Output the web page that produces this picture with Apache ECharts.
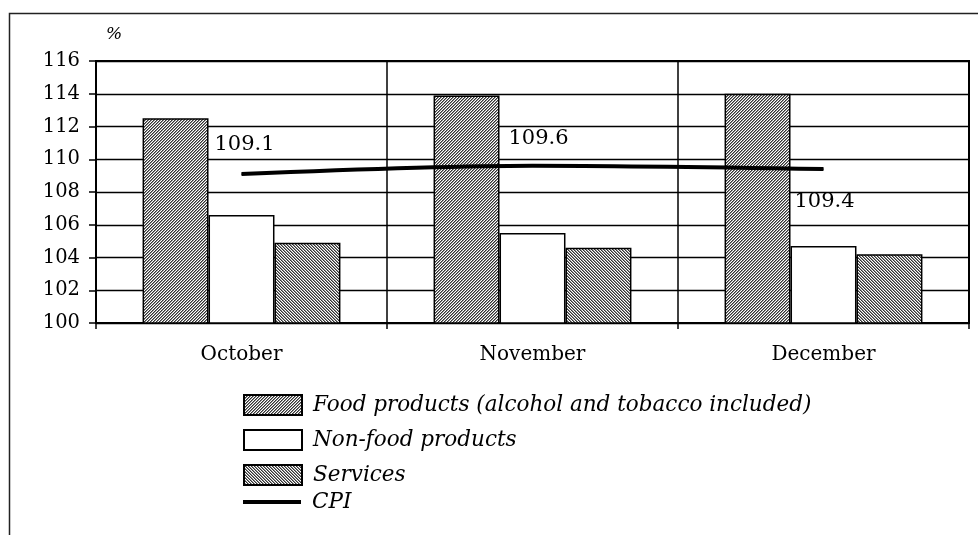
<!DOCTYPE html>
<html>
<head>
<meta charset="utf-8">
<script src="https://cdn.jsdelivr.net/npm/echarts@6/dist/echarts.min.js"></script>
<style>
  html, body { margin: 0; padding: 0; background: #fff; }
  #chart { width: 978px; height: 535px; }
</style>
</head>
<body>
<div id="chart"></div>
<script>
// Monthly price indices, previous year's month = 100
const months = ['October', 'November', 'December'];
const foodProducts = [112.5, 113.9, 114.0];
const nonFoodProducts = [106.6, 105.5, 104.7];
const services = [104.9, 104.6, 104.2];
const cpi = [109.1, 109.6, 109.4];
const seriesNames = ['Food products (alcohol and tobacco included)', 'Non-food products', 'Services', 'CPI'];

const SERIF = '"DejaVu Serif", "Liberation Serif", serif';

// Fine diagonal hatch used as bar fill
function hatch(forward) {
  const n = 3;
  const c = document.createElement('canvas');
  c.width = n; c.height = n;
  const ctx = c.getContext('2d');
  const shades = ['#333333', '#8e8e8e', '#ffffff'];
  for (let x = 0; x < n; x++) {
    for (let y = 0; y < n; y++) {
      const k = forward ? (x + y) % n : (x - y + 2 * n) % n;
      ctx.fillStyle = shades[k];
      ctx.fillRect(x, y, 1, 1);
    }
  }
  return c;
}

// CPI label offsets around each point
const cpiLabelOffsets = [[3, -29], [6, -27], [1, 32]];

const chart = echarts.init(document.getElementById('chart'), null, { renderer: 'canvas' });

const barStyle = { borderColor: '#000', borderWidth: 1.5 };
const legendText = { fontFamily: SERIF, fontStyle: 'italic', fontSize: 21.5, color: '#000', lineHeight: 20, padding: [0, 0, 0, 6] };

chart.setOption({
  animation: false,
  backgroundColor: '#fff',
  textStyle: { fontFamily: SERIF },
  graphic: [
    {
      type: 'rect',
      shape: { x: 9.5, y: 13.5, width: 1000, height: 1000 },
      style: { fill: 'none', stroke: '#222', lineWidth: 1.5 },
      silent: true
    },
    {
      type: 'text',
      left: 106,
      top: 26,
      style: { text: '%', font: 'italic 17px ' + SERIF, fill: '#000' }
    }
  ],
  grid: { left: 96, right: 9, top: 61, bottom: 212, show: true, borderColor: '#000', borderWidth: 2 },
  legend: [
    {
      orient: 'vertical',
      left: 243,
      top: 394,
      padding: 0,
      itemWidth: 58,
      itemHeight: 20,
      itemGap: 13,
      icon: 'rect',
      data: seriesNames.slice(0, 3),
      textStyle: legendText,
      selectedMode: false
    },
    {
      orient: 'vertical',
      left: 243,
      top: 489,
      padding: 0,
      itemWidth: 58,
      itemHeight: 4,
      icon: 'rect',
      data: [{ name: 'CPI', itemStyle: { color: '#000', borderWidth: 0 } }],
      textStyle: Object.assign({}, legendText, { padding: [6, 0, 0, 6] }),
      selectedMode: false
    }
  ],
  xAxis: {
    type: 'category',
    data: months,
    boundaryGap: true,
    axisLine: { show: true, lineStyle: { color: '#000', width: 2 } },
    axisTick: { show: true, length: 6, lineStyle: { color: '#000', width: 1.5 } },
    splitLine: { show: true, lineStyle: { color: '#000', width: 1.5 } },
    axisLabel: { fontFamily: SERIF, fontSize: 20, color: '#000', margin: 22 }
  },
  yAxis: {
    type: 'value',
    min: 100,
    max: 116,
    interval: 2,
    axisLine: { show: true, lineStyle: { color: '#000', width: 2 } },
    axisTick: { show: true, length: 7, lineStyle: { color: '#000', width: 1.5 } },
    splitLine: { show: true, lineStyle: { color: '#000', width: 1.3 } },
    axisLabel: { fontFamily: SERIF, fontSize: 19.5, color: '#000', margin: 16 }
  },
  series: [
    {
      name: seriesNames[0],
      type: 'bar',
      data: foodProducts,
      barGap: 0,
      barCategoryGap: '32%',
      itemStyle: Object.assign({ color: { image: hatch(true), repeat: 'repeat' } }, barStyle)
    },
    {
      name: seriesNames[1],
      type: 'bar',
      data: nonFoodProducts,
      itemStyle: Object.assign({ color: '#fff' }, barStyle)
    },
    {
      name: seriesNames[2],
      type: 'bar',
      data: services,
      itemStyle: Object.assign({ color: { image: hatch(false), repeat: 'repeat' } }, barStyle)
    },
    {
      name: seriesNames[3],
      type: 'line',
      data: cpi.map((v, i) => ({
        value: v,
        label: { offset: cpiLabelOffsets[i] }
      })),
      smooth: 0.3,
      symbol: 'circle',
      symbolSize: 1,
      showSymbol: true,
      z: 5,
      itemStyle: { color: '#000' },
      lineStyle: { color: '#000', width: 4 },
      label: {
        show: true,
        position: 'inside',
        fontFamily: SERIF,
        fontSize: 21,
        color: '#000',
        formatter: (p) => p.value.toFixed(1)
      }
    }
  ]
});
</script>
</body>
</html>
